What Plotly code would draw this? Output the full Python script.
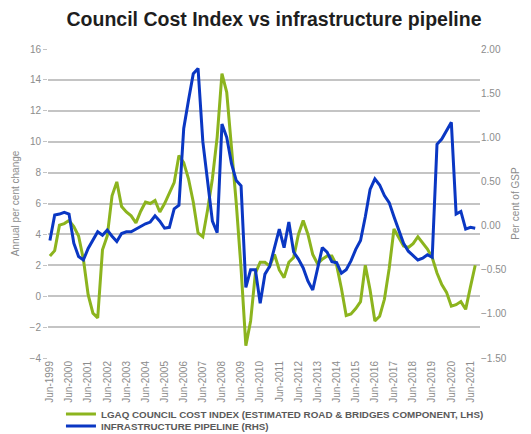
import plotly.graph_objects as go

# Quarterly observations, June 1999 to September 2021 (quarters run Jun, Sep, Dec, Mar)
quarters = []
for y in range(1999, 2022):
    quarters += [f"Jun-{y}", f"Sep-{y}", f"Dec-{y}", f"Mar-{y + 1}"]
quarters = quarters[:90]

# LGAQ Council Cost Index, roads & bridges component (annual % change, LHS)
council_cost_index = [
    2.6, 2.95, 4.6, 4.7, 4.9, 4.5, 3.9, 2.4, 0.1, -1.1,
    -1.4, 3.0, 3.9, 6.5, 7.4, 5.8, 5.45, 5.2, 4.75, 5.5,
    6.1, 6.0, 6.2, 5.45, 6.0, 6.7, 7.35, 9.1, 8.65, 7.6,
    6.1, 4.1, 3.85, 5.6, 7.6, 10.3, 14.4, 13.2, 9.8, 6.0,
    1.8, -3.2, -1.6, 1.5, 2.2, 2.2, 1.95, 2.7, 1.7, 1.2,
    2.2, 2.5, 4.0, 4.9, 4.0, 2.7, 2.1, 2.4, 2.6, 2.6,
    2.0, 0.5, -1.25, -1.15, -0.8, -0.35, 2.0, 0.4, -1.6, -1.3,
    -0.2, 1.8, 4.35, 3.8, 3.25, 3.15, 3.4, 3.85, 3.45, 3.05,
    2.5, 1.5, 0.75, 0.25, -0.65, -0.55, -0.35, -0.85, 0.6, 2.0,
]

# Infrastructure pipeline (per cent of GSP, RHS)
infrastructure_pipeline = [
    -0.17, 0.12, 0.13, 0.15, 0.13, -0.2, -0.35, -0.39, -0.26, -0.16,
    -0.07, -0.11, -0.05, -0.12, -0.18, -0.09, -0.07, -0.07, -0.04, -0.01,
    0.02, 0.04, 0.11, 0.05, -0.03, -0.02, 0.19, 0.23, 1.1, 1.42,
    1.72, 1.78, 0.95, 0.5, 0.05, -0.08, 1.15, 1.0, 0.7, 0.51,
    0.45, -0.7, -0.5, -0.5, -0.88, -0.55, -0.46, -0.25, -0.04, -0.25,
    0.04, -0.3, -0.38, -0.48, -0.63, -0.73, -0.5, -0.25, -0.3, -0.41,
    -0.42, -0.54, -0.5, -0.4, -0.27, -0.17, 0.1, 0.41, 0.53, 0.46,
    0.34, 0.26, 0.1, -0.04, -0.2, -0.29, -0.34, -0.39, -0.37, -0.33,
    -0.36, 0.92, 0.98, 1.08, 1.17, 0.13, 0.16, -0.04, -0.02, -0.03,
]

left_ticks = [-4, -2, 0, 2, 4, 6, 8, 10, 12, 14, 16]
right_ticks = [-1.5, -1.0, -0.5, 0.0, 0.5, 1.0, 1.5, 2.0]

GREEN = "#8cb41e"
BLUE = "#0a37c3"
GREY = "#8c8c8c"

idx = list(range(len(quarters)))
label_idx = idx[::4]

fig = go.Figure()
fig.add_trace(go.Scatter(
    x=idx, y=council_cost_index, mode="lines",
    name="<b>LGAQ COUNCIL COST INDEX (ESTIMATED ROAD & BRIDGES COMPONENT, LHS)</b>",
    line=dict(color=GREEN, width=3), yaxis="y", legend="legend",
))
fig.add_trace(go.Scatter(
    x=idx, y=infrastructure_pipeline, mode="lines",
    name="<b>INFRASTRUCTURE PIPELINE (RHS)</b>",
    line=dict(color=BLUE, width=3), yaxis="y2", legend="legend2",
))

legend_style = dict(
    x=0.03, xanchor="left", yanchor="middle",
    orientation="v", bgcolor="rgba(0,0,0,0)",
    font=dict(size=9.8, color="#5a5a5a"),
    itemwidth=30,
)

fig.update_layout(
    width=531, height=434,
    margin=dict(l=48, r=51, t=49, b=76, autoexpand=False),
    paper_bgcolor="white", plot_bgcolor="white",
    font=dict(family="Liberation Sans, Arial, sans-serif", color=GREY, size=10),
    title=dict(
        text="<b>Council Cost Index vs infrastructure pipeline</b>",
        x=0.516, xanchor="center", y=0.955, yanchor="middle",
        font=dict(size=19.5, color="#1e1e1e"),
    ),
    xaxis=dict(
        range=[-0.4, 90.0],
        tickvals=label_idx,
        ticktext=[quarters[i] for i in label_idx],
        tickangle=-90,
        tickfont=dict(size=10, color=GREY),
        showgrid=False, zeroline=False, showline=False,
    ),
    yaxis=dict(
        range=[-4, 16], tickvals=left_ticks,
        showgrid=True, gridcolor="#c4c4c4", gridwidth=1.5,
        zeroline=False, showline=False,
        ticks="outside", ticklen=4, tickcolor="#c4c4c4",
        tickfont=dict(size=10, color=GREY),
        title=dict(text="Annual per cent change", font=dict(size=10, color=GREY), standoff=8),
    ),
    yaxis2=dict(
        range=[-1.5, 2.0], tickvals=right_ticks, tickformat=".2f",
        overlaying="y", side="right",
        showgrid=False, zeroline=False, showline=False,
        tickfont=dict(size=10, color=GREY),
        title=dict(text="Per cent of GSP", font=dict(size=10, color=GREY), standoff=6),
    ),
    legend=dict(y=-0.181, **legend_style),
    legend2=dict(y=-0.22, **legend_style),
    showlegend=True,
)

fig.write_html("out.html")
